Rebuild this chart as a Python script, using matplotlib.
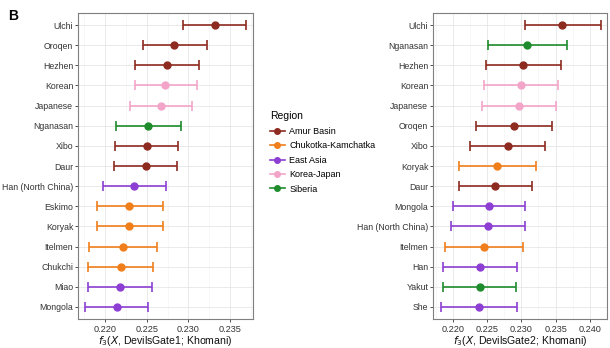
import numpy as np
import matplotlib
matplotlib.use("Agg")
import matplotlib.pyplot as plt
from matplotlib.lines import Line2D

plt.rcParams['font.family'] = ['Liberation Sans', 'DejaVu Sans']

# region colours (ggplot-ish)
region_colors = {
    'Amur Basin': '#8E2B20',
    'Chukotka-Kamchatka': '#F07E1B',
    'East Asia': '#8D3FD3',
    'Korea-Japan': '#F3A5C9',
    'Siberia': '#1E8C2C',
}
regions = list(region_colors)

# panel 1: f3(X, DevilsGate1; Khomani), top to bottom
pops1 = ['Ulchi', 'Oroqen', 'Hezhen', 'Korean', 'Japanese', 'Nganasan', 'Xibo', 'Daur',
         'Han (North China)', 'Eskimo', 'Koryak', 'Itelmen', 'Chukchi', 'Miao', 'Mongola']
reg1 = ['Amur Basin', 'Amur Basin', 'Amur Basin', 'Korea-Japan', 'Korea-Japan', 'Siberia',
        'Amur Basin', 'Amur Basin', 'East Asia', 'Chukotka-Kamchatka', 'Chukotka-Kamchatka',
        'Chukotka-Kamchatka', 'Chukotka-Kamchatka', 'East Asia', 'East Asia']
est1 = [0.2332, 0.2283, 0.2274, 0.2272, 0.2267, 0.2252, 0.2250, 0.2249,
        0.2235, 0.2229, 0.2229, 0.2222, 0.2219, 0.2218, 0.2214]
lo1 = [0.2294, 0.2245, 0.2236, 0.2236, 0.2230, 0.2213, 0.2212, 0.2211,
       0.2198, 0.2190, 0.2190, 0.2181, 0.2180, 0.2180, 0.2176]
hi1 = [0.2369, 0.2322, 0.2313, 0.2310, 0.2304, 0.2291, 0.2288, 0.2286,
       0.2273, 0.2269, 0.2269, 0.2262, 0.2258, 0.2256, 0.2251]

# panel 2: f3(X, DevilsGate2; Khomani)
pops2 = ['Ulchi', 'Nganasan', 'Hezhen', 'Korean', 'Japanese', 'Oroqen', 'Xibo', 'Koryak',
         'Daur', 'Mongola', 'Han (North China)', 'Itelmen', 'Han', 'Yakut', 'She']
reg2 = ['Amur Basin', 'Siberia', 'Amur Basin', 'Korea-Japan', 'Korea-Japan', 'Amur Basin',
        'Amur Basin', 'Chukotka-Kamchatka', 'Amur Basin', 'East Asia', 'East Asia',
        'Chukotka-Kamchatka', 'East Asia', 'Siberia', 'East Asia']
est2 = [0.2360, 0.2309, 0.2303, 0.2300, 0.2296, 0.2289, 0.2280, 0.2265,
        0.2262, 0.2253, 0.2252, 0.2246, 0.2239, 0.2239, 0.2238]
lo2 = [0.2305, 0.2251, 0.2249, 0.2246, 0.2242, 0.2234, 0.2225, 0.2209,
       0.2209, 0.2200, 0.2198, 0.2189, 0.2186, 0.2185, 0.2183]
hi2 = [0.2416, 0.2366, 0.2358, 0.2353, 0.2350, 0.2345, 0.2334, 0.2322,
       0.2316, 0.2306, 0.2306, 0.2303, 0.2293, 0.2292, 0.2293]

ticks1 = [0.220, 0.225, 0.230, 0.235]
ticks2 = [0.220, 0.225, 0.230, 0.235, 0.240]


def panel(ax, pops, reg, est, lo, hi, xlim, ticks, xlabel):
    n = len(pops)
    y = np.arange(n)[::-1] + 1
    for yi, r, e, l, h in zip(y, reg, est, lo, hi):
        c = region_colors[r]
        ax.errorbar(e, yi, xerr=[[e - l], [h - e]], fmt='o', color=c, ecolor=c,
                    elinewidth=1.2, capsize=3.5, capthick=1.2, markersize=5, zorder=3)
    ax.set_xlim(*xlim)
    ax.set_ylim(0.4, n + 0.6)
    ax.set_yticks(y)
    ax.set_yticklabels(pops)
    ax.set_xticks(ticks)
    ax.set_xticklabels(['%.3f' % t for t in ticks])
    minors = [t + 0.0025 for t in ticks] + [ticks[0] - 0.0025]
    ax.set_xticks(minors, minor=True)
    ax.grid(which='major', color='#e6e6e6', linewidth=0.6, zorder=0)
    ax.grid(which='minor', axis='x', color='#f2f2f2', linewidth=0.4, zorder=0)
    ax.set_axisbelow(True)
    ax.tick_params(axis='both', which='major', labelsize=6.6, length=2.5, width=0.6,
                   color='#333333', labelcolor='#333333', pad=1.5)
    ax.tick_params(axis='y', which='major', labelsize=6.3, length=2.2, pad=1.2)
    ax.tick_params(which='minor', length=0)
    for s in ax.spines.values():
        s.set_color('#7f7f7f')
        s.set_linewidth(0.8)
    ax.set_xlabel(xlabel, fontsize=7.6, labelpad=0.5, color='#111111')


fig = plt.figure(figsize=(6.1, 3.48), dpi=100)
ax1 = fig.add_axes([0.1279, 0.0833, 0.2869, 0.8793])
ax2 = fig.add_axes([0.7098, 0.0833, 0.2852, 0.8793])

panel(ax1, pops1, reg1, est1, lo1, hi1, (0.21676, 0.23776), ticks1,
      r'$f_3$($X$, DevilsGate1; Khomani)')
panel(ax2, pops2, reg2, est2, lo2, hi2, (0.2171, 0.2422), ticks2,
      r'$f_3$($X$, DevilsGate2; Khomani)')

handles = [Line2D([0], [0], color=region_colors[r], marker='o', markersize=4,
                  linewidth=1.2) for r in regions]
fig.legend(handles, regions, title='Region', loc='upper left',
           bbox_to_anchor=(0.437, 0.69), frameon=False, fontsize=6.5,
           title_fontsize=7.5, handlelength=1.6, handletextpad=0.5,
           labelspacing=0.6, alignment='left', borderaxespad=0)

fig.text(0.013, 0.975, 'B', fontsize=10, fontweight='bold', va='top', ha='left')

fig.savefig('out.png', dpi=100)
